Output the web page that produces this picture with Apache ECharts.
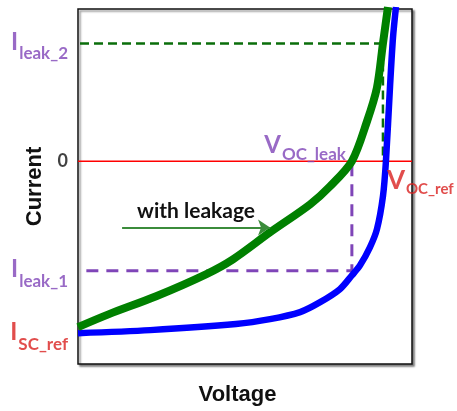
<!DOCTYPE html>
<html>
<head>
<meta charset="utf-8">
<script src="https://cdn.jsdelivr.net/npm/echarts@6/dist/echarts.min.js"></script>
<style>
  html, body { margin: 0; padding: 0; background: #fff; }
  #chart { width: 457px; height: 411px; }
</style>
</head>
<body>
<div id="chart"></div>
<script>
// Key operating points (normalised voltage, normalised current)
const vOcLeak = 0.82;
const vOcRef = 0.913;
const iLeak2 = 0.58;
const iLeak1 = -0.54;
const iScRef = -0.85;

// I-V curve with leakage (green)
const greenV = [0, 0.093, 0.234, 0.383, 0.464, 0.575, 0.695, 0.754, 0.82, 0.865, 0.895, 0.913, 0.928];
const greenI = [-0.818, -0.754, -0.666, -0.558, -0.484, -0.351, -0.213, -0.125, 0, 0.195, 0.362, 0.58, 0.76];

// Reference I-V curve (blue)
const blueV = [0, 0.216, 0.473, 0.575, 0.665, 0.725, 0.784, 0.82, 0.844, 0.874, 0.895, 0.913, 0.922, 0.934, 0.943, 0.952];
const blueI = [-0.848, -0.833, -0.803, -0.779, -0.744, -0.695, -0.631, -0.563, -0.515, -0.425, -0.336, -0.174, 0, 0.362, 0.607, 0.76];

// "with leakage" arrow span
const arrowV = [0.132, 0.575];
const arrowI = -0.327;

const PURPLE = '#7f45b8';
const RED = '#d9201f';
const FONT = 'Lato, "Open Sans", sans-serif';

function zip(xs, ys) { return xs.map((x, i) => [x, ys[i]]); }

function subRich(color, big, sub, pad) {
  return {
    big: { fontSize: big, fontWeight: 'bold', fontFamily: FONT, color: color, lineHeight: big + 2, verticalAlign: 'top' },
    sub: { fontSize: sub, fontWeight: 'bold', fontFamily: FONT, color: color, lineHeight: sub + 1, verticalAlign: 'top', padding: [pad, 0, 0, 1] }
  };
}

const leftLabel = (y, big, sub, color) => ({
  value: [0, y],
  label: {
    show: true, position: 'left', distance: 10,
    formatter: sub ? '{big|' + big + '}{sub|' + sub + '}' : big,
    rich: subRich(color, 24, 17, 15),
    fontSize: 18, fontWeight: 'bold', fontFamily: FONT, color: color
  }
});

const chart = echarts.init(document.getElementById('chart'), null, { renderer: 'canvas' });

const option = {
  animation: false,
  backgroundColor: '#fff',
  grid: {
    left: 78, top: 9, right: 45, bottom: 46,
    show: true, backgroundColor: '#fff',
    borderColor: '#111', borderWidth: 1.5,
    shadowColor: 'rgba(0,0,0,0.45)', shadowBlur: 2, shadowOffsetX: 2, shadowOffsetY: 2
  },
  xAxis: {
    type: 'value', min: 0, max: 1,
    name: 'Voltage', nameLocation: 'middle', nameGap: 20,
    nameTextStyle: { fontFamily: '"Liberation Sans", Arial, sans-serif', fontWeight: 'bold', fontSize: 22, color: '#111', padding: [0, 15, 0, 0] },
    axisLine: { show: false }, axisTick: { show: false }, axisLabel: { show: false }, splitLine: { show: false }
  },
  yAxis: {
    type: 'value', min: -1, max: 0.75,
    name: 'Current', nameLocation: 'middle', nameGap: 32, nameRotate: 90,
    nameTextStyle: { fontFamily: '"Liberation Sans", Arial, sans-serif', fontWeight: 'bold', fontSize: 22, color: '#111' },
    axisLine: { show: false }, axisTick: { show: false }, axisLabel: { show: false }, splitLine: { show: false }
  },
  series: [
    {
      // zero-current line
      type: 'line', data: [[0, 0], [1, 0]], symbol: 'none', silent: true,
      lineStyle: { color: '#ff0000', width: 1.5 }, z: 2
    },
    {
      type: 'line', data: [[0.006, iLeak2], [vOcRef, iLeak2], [vOcRef, 0]], symbol: 'none', silent: true,
      lineStyle: { color: '#0a6e0a', width: 2.5, type: [9, 5] }, z: 3
    },
    {
      type: 'line', data: [[0.025, iLeak1], [vOcLeak, iLeak1], [vOcLeak, 0]], symbol: 'none', silent: true,
      lineStyle: { color: PURPLE, width: 3, type: [12, 8] }, z: 3
    },
    {
      name: 'with leakage', type: 'line', data: zip(greenV, greenI), symbol: 'none',
      smooth: 0.3, clip: true,
      lineStyle: { color: '#008000', width: 8 }, z: 5
    },
    {
      name: 'reference', type: 'line', data: zip(blueV, blueI), symbol: 'none',
      smooth: 0.3, clip: true,
      lineStyle: { color: '#0000ff', width: 6.5 }, z: 4
    },
    {
      type: 'lines', coordinateSystem: 'cartesian2d', silent: true,
      symbol: ['none', 'arrow'], symbolSize: [10, 12],
      lineStyle: { color: '#3b8c3b', width: 2, opacity: 1 },
      label: {
        show: true, position: 'middle', distance: 6, formatter: 'with leakage',
        fontFamily: FONT, fontWeight: 'bold', fontSize: 21, color: '#111'
      },
      data: [{ coords: [[arrowV[0], arrowI], [arrowV[1], arrowI]] }], z: 6
    },
    {
      // current labels along the left edge
      type: 'scatter', symbolSize: 0, silent: true, clip: false,
      data: [
        leftLabel(iLeak2, 'I', 'leak_2', PURPLE),
        leftLabel(0, '0', null, '#111'),
        leftLabel(iLeak1, 'I', 'leak_1', PURPLE),
        leftLabel(iScRef, 'I', 'SC_ref', RED)
      ], z: 7
    },
    {
      // open-circuit voltage labels
      type: 'scatter', symbolSize: 0, silent: true, clip: false,
      data: [
        {
          value: [vOcLeak, 0],
          label: {
            show: true, position: [0, 0], align: 'right', verticalAlign: 'bottom', offset: [-6, -2],
            formatter: '{big|V}{sub|OC_leak}', rich: subRich(PURPLE, 24, 17, 13)
          }
        },
        {
          value: [vOcRef, 0],
          label: {
            show: true, position: [0, 0], align: 'left', verticalAlign: 'top', offset: [4, 6],
            formatter: '{big|V}{sub|OC_ref}', rich: subRich(RED, 26, 15, 15)
          }
        }
      ], z: 7
    }
  ]
};

chart.setOption(option);
</script>
</body>
</html>
